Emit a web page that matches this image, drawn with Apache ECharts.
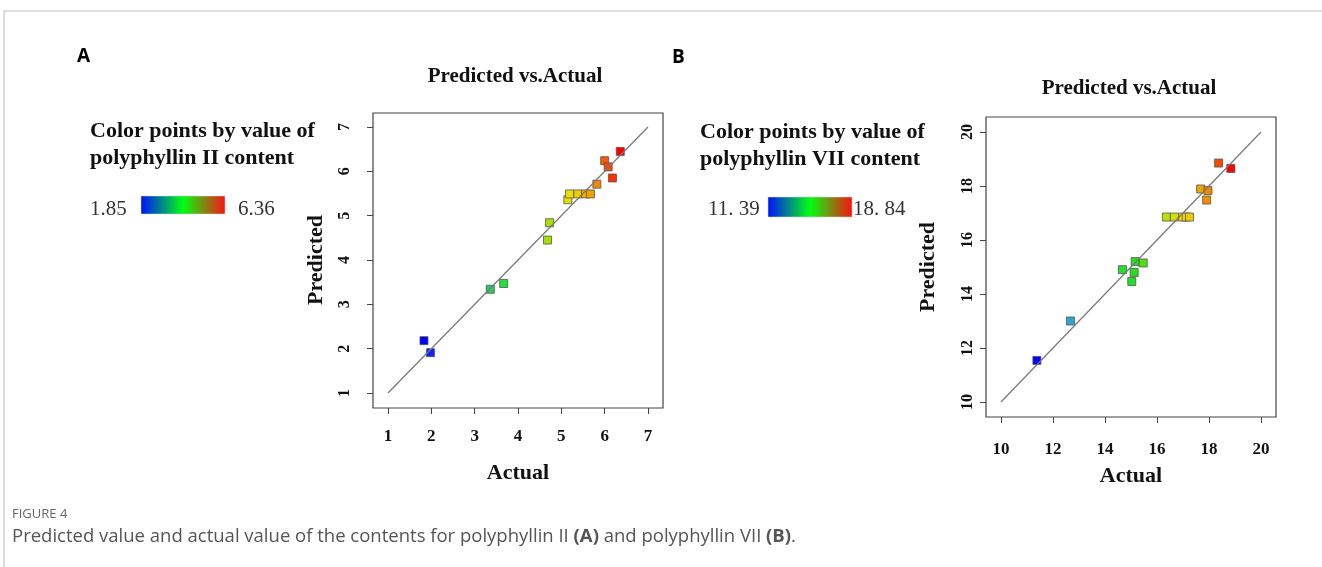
<!DOCTYPE html>
<html lang="en">
<head>
    <meta charset="UTF-8">
    <title>Predicted vs. Actual</title>
    <script src="https://cdn.jsdelivr.net/npm/echarts@6/dist/echarts.min.js"></script>
    <style>
        html, body { margin: 0; padding: 0; background: #fff; }
        #main { width: 1322px; height: 567px; }
    </style>
</head>
<body>
<div id="main"></div>
<script type="text/javascript">
    // panel A: polyphyllin II
    var actualA    = [1.83, 1.98, 3.36, 3.67, 4.68, 4.73, 5.15, 5.19, 5.38, 5.56, 5.67, 5.82, 6.00, 6.08, 6.18, 6.36];
    var predictedA = [2.18, 1.91, 3.34, 3.47, 4.45, 4.84, 5.36, 5.49, 5.49, 5.49, 5.49, 5.71, 6.24, 6.10, 5.85, 6.45];
    var rangeA = [1.85, 6.36];
    var diagA = [1, 7];

    // panel B: polyphyllin VII
    var actualB    = [11.38, 12.67, 14.67, 15.03, 15.12, 15.16, 15.47, 16.36, 16.67, 16.99, 17.12, 17.25, 17.68, 17.96, 17.91, 18.37, 18.84];
    var predictedB = [11.54, 13.00, 14.90, 14.46, 14.80, 15.20, 15.15, 16.85, 16.85, 16.85, 16.85, 16.85, 17.89, 17.83, 17.48, 18.85, 18.65];
    var rangeB = [11.39, 18.84];
    var diagB = [10, 20];

    var serif = 'Liberation Serif, Times New Roman, serif';
    var sans = 'Open Sans, sans-serif';
    var pointColors = ['#0000ff', '#30a0f0', '#20b0a0', '#20e040', '#20e020', '#a0e000', '#f0e000', '#f09000', '#ff0000'];
    var barStops = [
        {offset: 0, color: '#0010ff'},
        {offset: 0.5, color: '#00ff10'},
        {offset: 1, color: '#ff1010'}
    ];

    function pairs(xs, ys) {
        return xs.map(function (x, i) { return [x, ys[i]]; });
    }

    function xAx(gi, lo, hi, step, margin, nameGap) {
        return {
            type: 'value', gridIndex: gi, min: lo, max: hi, interval: step, offset: 15,
            axisLine: {show: false},
            axisTick: {show: true, length: 6, lineStyle: {color: '#444'}},
            splitLine: {show: false},
            axisLabel: {margin: margin, fontFamily: serif, fontWeight: 'bold', fontSize: 17, color: '#111'},
            name: 'Actual', nameLocation: 'middle', nameGap: nameGap, nameMoveOverlap: false,
            nameTextStyle: {fontFamily: serif, fontWeight: 'bold', fontSize: 22, color: '#111'}
        };
    }

    function yAx(gi, lo, hi, step, margin, nameGap) {
        return {
            type: 'value', gridIndex: gi, min: lo, max: hi, interval: step, offset: 15,
            axisLine: {show: false},
            axisTick: {show: true, length: 6, lineStyle: {color: '#444'}},
            splitLine: {show: false},
            axisLabel: {margin: margin, rotate: 90, fontFamily: serif, fontWeight: 'bold', fontSize: 16, color: '#111'},
            name: 'Predicted', nameLocation: 'middle', nameGap: nameGap, nameRotate: 90, nameMoveOverlap: false,
            nameTextStyle: {fontFamily: serif, fontWeight: 'bold', fontSize: 22, color: '#111'}
        };
    }

    // text centred vertically on y
    function text(x, y, str, style) {
        var s = Object.assign({text: str, fontFamily: serif, fill: '#111', verticalAlign: 'middle'}, style || {});
        return {type: 'text', x: x, y: y, style: s, z: 10};
    }

    var chart = echarts.init(document.getElementById('main'));

    var option = {
        backgroundColor: '#fff',
        animation: false,
        title: [
            {text: 'Predicted vs.Actual', left: 510, top: 61, textAlign: 'center',
                textStyle: {fontFamily: serif, fontWeight: 'bold', fontSize: 21, color: '#111'}},
            {text: 'Predicted vs.Actual', left: 1124, top: 73, textAlign: 'center',
                textStyle: {fontFamily: serif, fontWeight: 'bold', fontSize: 21, color: '#111'}}
        ],
        grid: [
            {left: 388, top: 127, width: 260, height: 266, show: false},
            {left: 1001, top: 132, width: 260, height: 270, show: false}
        ],
        xAxis: [xAx(0, diagA[0], diagA[1], 1, 20, 54), xAx(1, diagB[0], diagB[1], 2, 24, 48)],
        yAxis: [yAx(0, diagA[0], diagA[1], 1, 20, 46), yAx(1, diagB[0], diagB[1], 2, 10, 47)],
        visualMap: [
            {type: 'continuous', show: false, seriesIndex: 1, dimension: 0,
                min: rangeA[0], max: rangeA[1], inRange: {color: pointColors}},
            {type: 'continuous', show: false, seriesIndex: 3, dimension: 0,
                min: rangeB[0], max: rangeB[1], inRange: {color: pointColors}}
        ],
        series: [
            {type: 'line', xAxisIndex: 0, yAxisIndex: 0, data: [[diagA[0], diagA[0]], [diagA[1], diagA[1]]],
                symbol: 'none', lineStyle: {color: '#777', width: 1.2}, silent: true},
            {type: 'scatter', xAxisIndex: 0, yAxisIndex: 0, data: pairs(actualA, predictedA),
                symbol: 'rect', symbolSize: 8, itemStyle: {borderColor: '#555', borderWidth: 0.8, opacity: 1}},
            {type: 'line', xAxisIndex: 1, yAxisIndex: 1, data: [[diagB[0], diagB[0]], [diagB[1], diagB[1]]],
                symbol: 'none', lineStyle: {color: '#777', width: 1.2}, silent: true},
            {type: 'scatter', xAxisIndex: 1, yAxisIndex: 1, data: pairs(actualB, predictedB),
                symbol: 'rect', symbolSize: 8, itemStyle: {borderColor: '#555', borderWidth: 0.8, opacity: 1}}
        ],
        graphic: [
            // page frame
            {type: 'line', shape: {x1: 4, y1: 11, x2: 1322, y2: 11}, style: {stroke: '#bbb', lineWidth: 1}},
            {type: 'line', shape: {x1: 4, y1: 11, x2: 4, y2: 567}, style: {stroke: '#bbb', lineWidth: 1}},
            // plot boxes
            {type: 'rect', shape: {x: 373, y: 113, width: 290, height: 295},
                style: {fill: 'none', stroke: '#444', lineWidth: 1.2}},
            {type: 'rect', shape: {x: 986, y: 117, width: 290, height: 300},
                style: {fill: 'none', stroke: '#444', lineWidth: 1.2}},
            // panel letters
            text(77, 57, 'A', {fontFamily: sans, fontWeight: 'bold', fontSize: 19, fill: '#000'}),
            text(672, 58, 'B', {fontFamily: sans, fontWeight: 'bold', fontSize: 19, fill: '#000'}),
            // colour legends
            text(90, 131, 'Color points by value of', {fontWeight: 'bold', fontSize: 22}),
            text(90, 158, 'polyphyllin II content', {fontWeight: 'bold', fontSize: 22}),
            text(90, 209, String(rangeA[0]), {fontSize: 21, fill: '#333'}),
            text(238, 209, String(rangeA[1]), {fontSize: 21, fill: '#333'}),
            {type: 'rect', shape: {x: 141, y: 196, width: 84, height: 18},
                style: {fill: {type: 'linear', x: 0, y: 0, x2: 1, y2: 0, colorStops: barStops}, stroke: '#ddd', lineWidth: 0.5}},
            text(700, 132, 'Color points by value of', {fontWeight: 'bold', fontSize: 22}),
            text(700, 159, 'polyphyllin VII content', {fontWeight: 'bold', fontSize: 22}),
            text(708, 209, '11. 39', {fontSize: 21, fill: '#333'}),
            text(853, 209, '18. 84', {fontSize: 21, fill: '#333'}),
            {type: 'rect', shape: {x: 768, y: 197, width: 84, height: 20},
                style: {fill: {type: 'linear', x: 0, y: 0, x2: 1, y2: 0, colorStops: barStops}, stroke: '#ddd', lineWidth: 0.5}},
            // caption
            text(12, 514, 'FIGURE 4', {fontFamily: sans, fontSize: 13, fill: '#666'}),
            {type: 'text', x: 12, y: 537, z: 10, style: {
                text: 'Predicted value and actual value of the contents for polyphyllin II {b|(A)} and polyphyllin VII {b|(B)}.',
                fontFamily: sans, fontSize: 18.5, fill: '#555', verticalAlign: 'middle',
                rich: {b: {fontFamily: sans, fontSize: 18.5, fontWeight: 'bold', fill: '#555'}}
            }}
        ]
    };

    chart.setOption(option);
</script>
</body>
</html>
